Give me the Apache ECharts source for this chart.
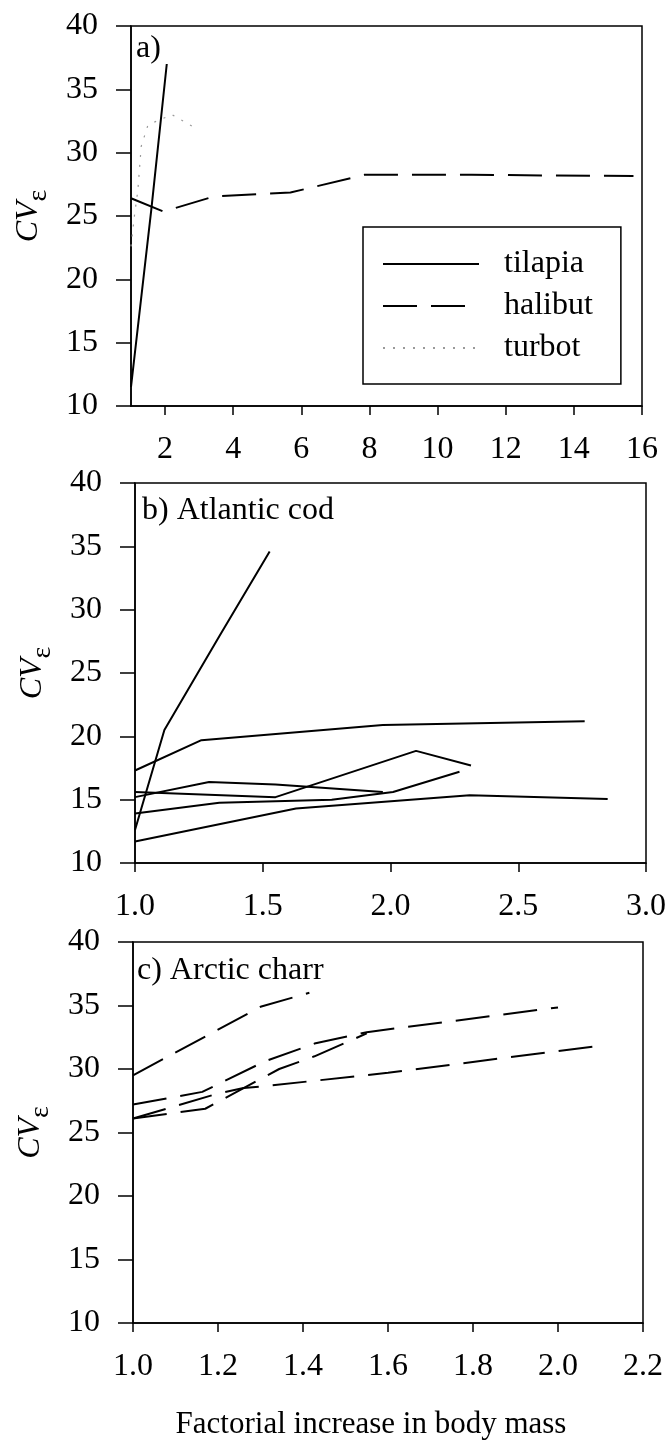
<!DOCTYPE html>
<html>
<head>
<meta charset="utf-8">
<title>CV epsilon vs factorial increase in body mass</title>
<script src="https://cdn.jsdelivr.net/npm/echarts@6/dist/echarts.min.js"></script>
<style>
  html, body { margin: 0; padding: 0; background: #fff; }
  #chart { width: 669px; height: 1446px; }
</style>
</head>
<body>
<div id="chart"></div>
<script>
// panel a) — x is factorial increase, y is CV (%)
const tilapia = [[1.0, 11.5], [1.6, 25.6], [2.05, 37.0]];
const halibut = [[1.0, 26.4], [1.95, 25.35], [3.45, 26.55], [5.68, 26.85], [7.85, 28.25], [11.0, 28.25], [15.75, 28.15]];
const turbot = [[1.0, 22.6], [1.1, 25.0], [1.2, 27.0], [1.3, 30.5], [1.5, 32.2], [2.2, 33.0], [2.85, 32.0]];

// panel b) Atlantic cod
const cod1 = [[1.0, 12.6], [1.115, 20.5], [1.33, 27.9], [1.527, 34.6]];
const cod2 = [[1.0, 17.3], [1.26, 19.7], [1.97, 20.9], [2.76, 21.2]];
const cod3 = [[1.0, 15.6], [1.55, 15.2], [2.1, 18.85], [2.315, 17.7]];
const cod4 = [[1.0, 15.2], [1.29, 16.4], [1.55, 16.2], [1.97, 15.6]];
const cod5 = [[1.0, 13.9], [1.33, 14.75], [1.77, 15.0], [2.01, 15.6], [2.27, 17.2]];
const cod6 = [[1.0, 11.7], [1.63, 14.3], [2.31, 15.35], [2.85, 15.05]];

// panel c) Arctic charr
const charr1 = [[1.0, 29.5], [1.3, 34.9], [1.415, 36.0]];
const charr2 = [[1.0, 27.2], [1.163, 28.2], [1.31, 30.6], [1.427, 32.0], [1.55, 32.9], [2.0, 34.85]];
const charr3 = [[1.0, 26.1], [1.198, 28.05], [1.26, 28.5], [1.31, 28.65], [1.6, 29.7], [2.09, 31.8]];
const charr4 = [[1.0, 26.1], [1.17, 26.87], [1.344, 30.0], [1.427, 31.0], [1.55, 32.8]];

const xTicksA = [2, 4, 6, 8, 10, 12, 14, 16];
const panelLabels = ['a)', 'b) Atlantic cod', 'c) Arctic charr'];
const legendNames = ['tilapia', 'halibut', 'turbot'];

const FONT = '"Liberation Serif", "DejaVu Serif", "Times New Roman", serif';
const INK = '#000';
const DASH = [34, 14];
const DOTS = [2, 8];

const GRIDS = [
    { left: 131, top: 26, width: 511, height: 380 },
    { left: 135, top: 483, width: 511, height: 380 },
    { left: 133, top: 942, width: 510, height: 381 }
];

function yAxisFor(gridIndex) {
    return {
        type: 'value', gridIndex, min: 10, max: 40, interval: 5,
        axisLine: { show: true, lineStyle: { color: INK, width: 1.5 } },
        axisTick: { show: true, length: 15, lineStyle: { color: INK, width: 1.5 } },
        splitLine: { show: false },
        axisLabel: { color: INK, fontSize: 32, fontFamily: FONT, margin: 33 },
        name: '{cv|CV}{sub|ε}',
        nameLocation: 'middle', nameGap: 86, nameRotate: 90,
        nameTextStyle: {
            rich: {
                cv: { fontSize: 32, fontStyle: 'italic', fontFamily: FONT, color: INK, lineHeight: 32, verticalAlign: 'top' },
                sub: { fontSize: 28, fontFamily: FONT, color: INK, lineHeight: 28, padding: [12, 0, 0, 0], verticalAlign: 'top' }
            }
        }
    };
}

function xAxisFor(gridIndex, min, max, interval, extra = {}) {
    return {
        type: 'value', gridIndex, min, max, interval,
        axisLine: { show: true, onZero: false, lineStyle: { color: INK, width: 1.5 } },
        axisTick: { show: true, length: 9, lineStyle: { color: INK, width: 1.5 }, ...(extra.axisTick || {}) },
        splitLine: { show: false },
        axisLabel: {
            color: INK, fontSize: 32, fontFamily: FONT, margin: 28,
            formatter: extra.fmt || (v => v),
            ...(extra.axisLabel || {})
        },
        ...(extra.name || {})
    };
}

function lineSeries(name, data, idx, style) {
    return {
        name, type: 'line', data,
        xAxisIndex: idx, yAxisIndex: idx,
        symbol: 'none', showSymbol: false, silent: true, animation: false,
        itemStyle: { color: style.color || INK, opacity: 0 },
        lineStyle: { color: INK, width: 2, ...style }
    };
}

const option = {
    backgroundColor: '#fff',
    textStyle: { fontFamily: FONT },
    title: panelLabels.map((text, i) => ({
        text,
        left: [136, 142, 137][i], top: [33, 495, 955][i], padding: 0,
        textStyle: { fontSize: 32, fontWeight: 'normal', fontFamily: FONT, color: INK }
    })),
    legend: {
        data: legendNames,
        orient: 'vertical', left: 363, top: 227,
        padding: [21, 28, 20, 19],
        itemWidth: 96, itemHeight: 14, itemGap: 10,
        borderColor: INK, borderWidth: 1.5, backgroundColor: '#fff',
        selectedMode: false,
        itemStyle: { opacity: 0 },
        textStyle: { fontSize: 32, fontFamily: FONT, color: INK, lineHeight: 32, padding: [0, 0, 0, 20] }
    },
    grid: GRIDS.map(g => ({ ...g, show: true, borderColor: INK, borderWidth: 1.5, backgroundColor: 'transparent' })),
    xAxis: [
        xAxisFor(0, 1, 16, 1, { axisLabel: { customValues: xTicksA }, axisTick: { customValues: xTicksA } }),
        xAxisFor(1, 1, 3, 0.5, { fmt: v => v.toFixed(1) }),
        xAxisFor(2, 1, 2.2, 0.2, {
            fmt: v => v.toFixed(1),
            name: {
                name: 'Factorial increase in body mass',
                nameLocation: 'middle', nameGap: 86,
                nameTextStyle: { fontSize: 31, fontFamily: FONT, color: INK, padding: [0, 34, 0, 0] }
            }
        })
    ],
    yAxis: [yAxisFor(0), yAxisFor(1), yAxisFor(2)],
    series: [
        lineSeries('tilapia', tilapia, 0, { type: 'solid' }),
        lineSeries('halibut', halibut, 0, { type: DASH }),
        lineSeries('turbot', turbot, 0, { type: DOTS, color: '#9a9a9a', width: 1.2 }),
        lineSeries('cod1', cod1, 1, {}),
        lineSeries('cod2', cod2, 1, {}),
        lineSeries('cod3', cod3, 1, {}),
        lineSeries('cod4', cod4, 1, {}),
        lineSeries('cod5', cod5, 1, {}),
        lineSeries('cod6', cod6, 1, {}),
        lineSeries('charr1', charr1, 2, { type: DASH }),
        lineSeries('charr2', charr2, 2, { type: DASH }),
        lineSeries('charr3', charr3, 2, { type: DASH }),
        lineSeries('charr4', charr4, 2, { type: DASH })
    ]
};

const chart = echarts.init(document.getElementById('chart'), null, { renderer: 'canvas' });
chart.setOption(option);
</script>
</body>
</html>
